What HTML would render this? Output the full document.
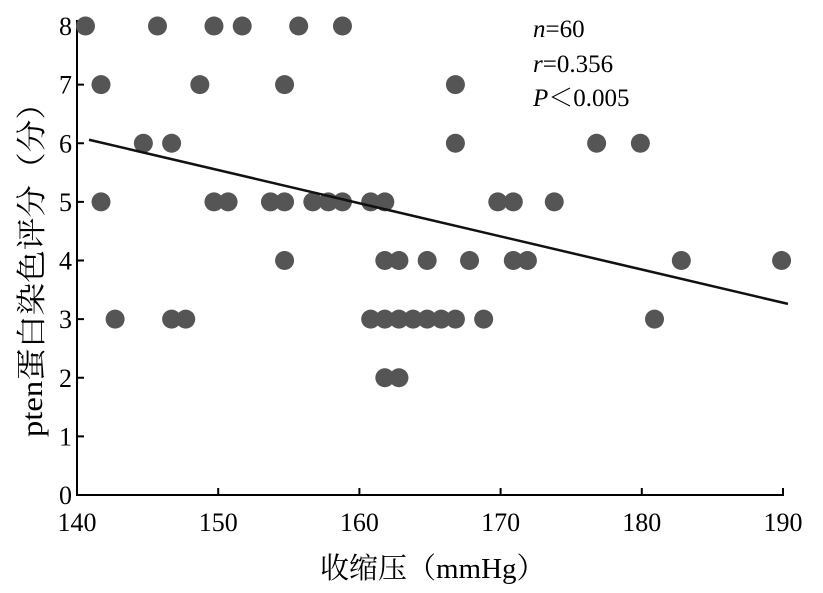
<!DOCTYPE html>
<html><head><meta charset="utf-8"><style>
html,body{margin:0;padding:0;background:#fff;}
svg{display:block;font-family:"Liberation Serif","Noto Serif CJK SC",serif;}
</style></head><body>
<svg id="chart" width="823" height="593" viewBox="0 0 823 593">
<g id="axes"></g><g id="marks"></g>
<text x="533" y="37" font-size="25"><tspan font-style="italic">n</tspan>=60</text>
<text x="533" y="72" font-size="25"><tspan font-style="italic">r</tspan>=0.356</text>
<text x="533" y="106" font-size="25"><tspan font-style="italic">P</tspan>＜0.005</text>
<text x="320" y="578" font-size="29">收缩压（mmHg）</text>
<text transform="translate(42,437) rotate(-90)" font-size="30" textLength="350" lengthAdjust="spacingAndGlyphs">pten蛋白染色评分（分）</text>
</svg>
<script>
const xs=[140.6,145.7,149.7,151.7,155.7,158.8,141.7,148.7,154.7,166.8,144.7,146.7,166.8,176.8,179.9,141.7,149.7,150.7,153.7,154.7,156.7,157.8,158.8,160.8,161.8,169.8,170.9,173.8,154.7,161.8,162.8,164.8,167.8,170.9,171.9,182.8,189.9,142.7,146.7,147.7,160.8,161.8,162.8,163.8,164.8,165.8,166.8,168.8,180.9,161.8,162.8];
const ys=[8,8,8,8,8,8,7,7,7,7,6,6,6,6,6,5,5,5,5,5,5,5,5,5,5,5,5,5,4,4,4,4,4,4,4,4,4,3,3,3,3,3,3,3,3,3,3,3,3,2,2];
const xTicks=[140,150,160,170,180,190];
const yTicks=[0,1,2,3,4,5,6,7,8];
const fitLine=[[140.85,6.06],[190.35,3.26]];
const NS="http://www.w3.org/2000/svg";
const X=v=>77+(v-140)*(783-77)/50;
const Y=v=>495-v*(495-26)/8;
const axes=document.getElementById('axes'),marks=document.getElementById('marks');
function mk(tag,at,parent){const e=document.createElementNS(NS,tag);for(const k in at)e.setAttribute(k,at[k]);parent.appendChild(e);return e;}
let a=mk('line',{x1:77,y1:20,x2:77,y2:496,stroke:'#000','stroke-width':2},axes);


a=mk('line',{x1:76,y1:495,x2:784,y2:495,stroke:'#000','stroke-width':2},axes);


yTicks.forEach(t=>{const y=Y(t);
 mk('line',{x1:77,y1:y,x2:84,y2:y,stroke:'#000','stroke-width':2},axes);
 const tx=mk('text',{x:72,y:y+9,'font-size':26,'text-anchor':'end'},axes);tx.textContent=t;
 
 });
xTicks.forEach(t=>{const x=X(t);
 mk('line',{x1:x,y1:495,x2:x,y2:488,stroke:'#000','stroke-width':2},axes);
 const tx=mk('text',{x:x,y:531,'font-size':26,'text-anchor':'middle'},axes);tx.textContent=t;
 
 });
xs.forEach((v,i)=>{const c=mk('circle',{cx:X(v),cy:Y(ys[i]),r:9.5,fill:'#555'},marks);
 
 });
const l=mk('line',{x1:X(fitLine[0][0]),y1:Y(fitLine[0][1]),x2:X(fitLine[1][0]),y2:Y(fitLine[1][1]),stroke:'#111','stroke-width':2.5},marks);


</script>
</body></html>
